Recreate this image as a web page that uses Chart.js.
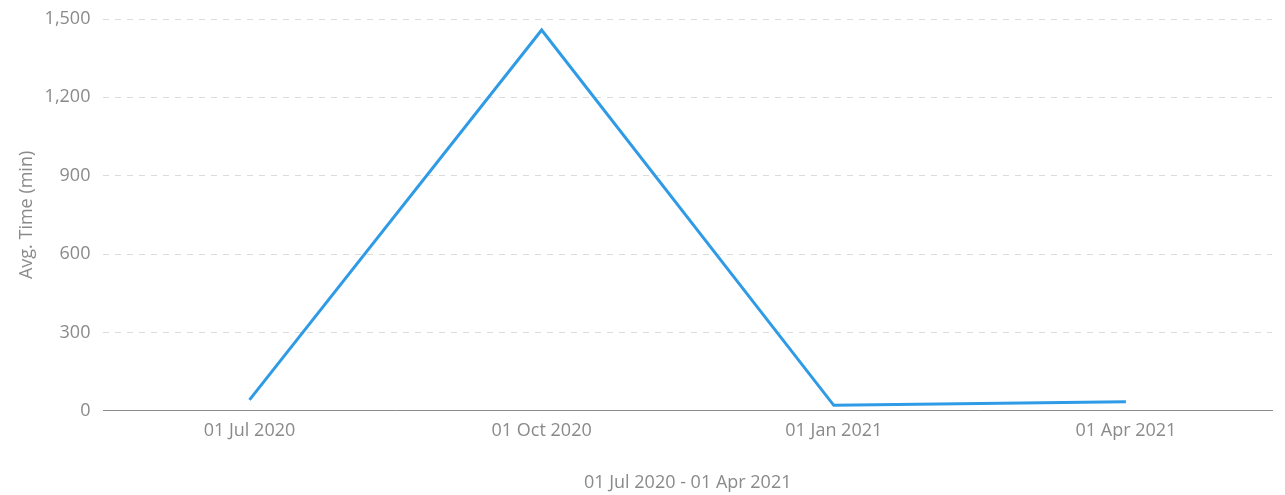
<!DOCTYPE html>
<html lang="en">
<head>
    <meta charset="UTF-8">
    <title>Avg. Time</title>
    <script src="https://cdn.jsdelivr.net/npm/chart.js@4.4.1/dist/chart.umd.min.js"></script>
    <style>
        body {
            margin: 0;
            padding: 0;
            background: #fff;
        }
        .chart-box {
            width: 1285px;
            height: 495px;
        }
    </style>
</head>
<body>
    <div class="chart-box">
        <canvas id="timeChart"></canvas>
    </div>

    <script>
        // values
        const categories = ['01 Jul 2020', '01 Oct 2020', '01 Jan 2021', '01 Apr 2021'];
        const avgTime = [42, 1458, 21, 35];
        const yTicks = [0, 300, 600, 900, 1200, 1500];
        const xTitle = '01 Jul 2020 - 01 Apr 2021';
        const yTitle = 'Avg. Time (min)';

        const textGray = '#8a8a8a';
        const fontFamily = "'Segoe UI', 'Open Sans', 'Noto Sans', sans-serif";
        Chart.defaults.font.family = fontFamily;
        Chart.defaults.color = textGray;

        const ctx = document.getElementById('timeChart').getContext('2d');
        new Chart(ctx, {
            type: 'line',
            data: {
                labels: categories,
                datasets: [{
                    label: yTitle,
                    data: avgTime,
                    borderColor: '#2f9be6',
                    borderWidth: 3,
                    pointRadius: 0,
                    tension: 0,
                    fill: false
                }]
            },
            options: {
                responsive: true,
                maintainAspectRatio: false,
                animation: false,
                layout: {
                    padding: { top: 0, right: 13, bottom: 1, left: 16 }
                },
                plugins: {
                    legend: { display: false },
                    tooltip: { enabled: false }
                },
                scales: {
                    x: {
                        offset: true,
                        grid: { display: false, drawTicks: false },
                        border: { display: true, color: '#8c8c8c', width: 1 },
                        ticks: {
                            color: textGray,
                            font: { size: 18 },
                            padding: 9
                        },
                        title: {
                            display: true,
                            text: xTitle,
                            color: textGray,
                            font: { size: 18 },
                            padding: { top: 22, bottom: 0 }
                        }
                    },
                    y: {
                        min: 0,
                        max: yTicks[yTicks.length - 1],
                        afterBuildTicks: axis => {
                            axis.ticks = yTicks.map(v => ({ value: v }));
                        },
                        afterFit: axis => {
                            // keep the top label from pushing the plot down
                            axis.paddingTop = 19;
                        },
                        grid: {
                            color: '#dcdcdc',
                            drawTicks: false,
                            lineWidth: 1
                        },
                        border: { display: false, dash: [6, 6] },
                        ticks: {
                            color: textGray,
                            font: { size: 18 },
                            padding: 13,
                            callback: v => v.toLocaleString('en-US')
                        },
                        title: {
                            display: true,
                            text: yTitle,
                            color: textGray,
                            font: { size: 18 },
                            padding: { top: 0, bottom: -6 }
                        }
                    }
                }
            }
        });
    </script>
</body>
</html>
